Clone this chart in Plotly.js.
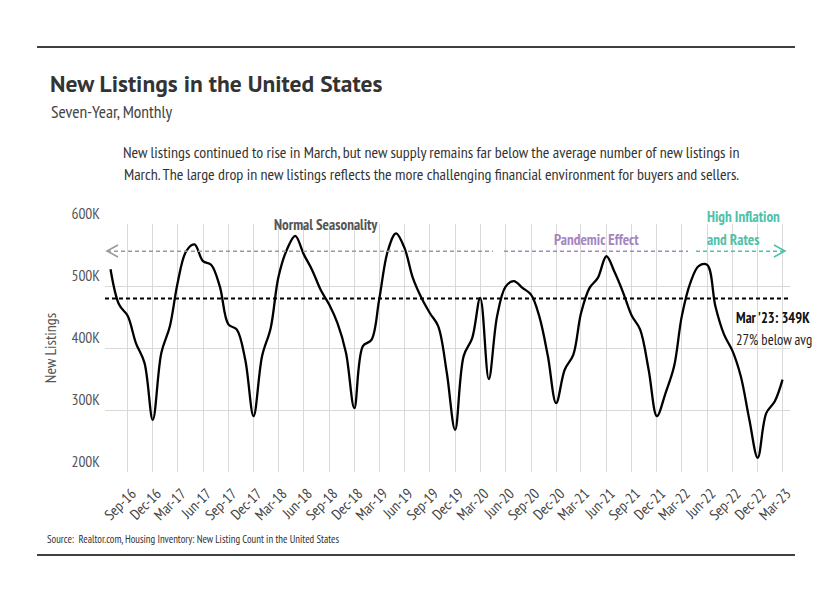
<!DOCTYPE html>
<html>
<head>
<meta charset="utf-8">
<script src="https://cdn.plot.ly/plotly-3.0.1.min.js"></script>
<style>
  html, body { margin: 0; padding: 0; background: #fff; }
  #chart { width: 831px; height: 597px; }
</style>
</head>
<body>
<div id="chart"></div>
<script>
// ---- data ----
const months = [
  '2016-07-01','2016-08-01','2016-09-01','2016-10-01','2016-11-01','2016-12-01',
  '2017-01-01','2017-02-01','2017-03-01','2017-04-01','2017-05-01','2017-06-01',
  '2017-07-01','2017-08-01','2017-09-01','2017-10-01','2017-11-01','2017-12-01',
  '2018-01-01','2018-02-01','2018-03-01','2018-04-01','2018-05-01','2018-06-01',
  '2018-07-01','2018-08-01','2018-09-01','2018-10-01','2018-11-01','2018-12-01',
  '2019-01-01','2019-02-01','2019-03-01','2019-04-01','2019-05-01','2019-06-01',
  '2019-07-01','2019-08-01','2019-09-01','2019-10-01','2019-11-01','2019-12-01',
  '2020-01-01','2020-02-01','2020-03-01','2020-04-01','2020-05-01','2020-06-01',
  '2020-07-01','2020-08-01','2020-09-01','2020-10-01','2020-11-01','2020-12-01',
  '2021-01-01','2021-02-01','2021-03-01','2021-04-01','2021-05-01','2021-06-01',
  '2021-07-01','2021-08-01','2021-09-01','2021-10-01','2021-11-01','2021-12-01',
  '2022-01-01','2022-02-01','2022-03-01','2022-04-01','2022-05-01','2022-06-01',
  '2022-07-01','2022-08-01','2022-09-01','2022-10-01','2022-11-01','2022-12-01',
  '2023-01-01','2023-02-01','2023-03-01'
];
const newListings = [
  527000, 470000, 452000, 408000, 376000, 284000,
  392000, 435000, 505000, 556000, 567000, 540000,
  534000, 499000, 438000, 430000, 381000, 290000,
  387000, 432000, 514000, 559000, 581000, 551000,
  526000, 494000, 470000, 440000, 392000, 303000,
  403000, 413000, 478000, 556000, 585000, 561000,
  513000, 481000, 456000, 435000, 360000, 268000,
  387000, 416000, 481000, 350000, 451000, 499000,
  508000, 497000, 486000, 451000, 387000, 311000,
  365000, 389000, 456000, 497000, 513000, 548000,
  522000, 489000, 452000, 430000, 365000, 290000,
  327000, 370000, 451000, 505000, 532000, 534000,
  467000, 422000, 395000, 354000, 284000, 223000,
  295000, 314000, 349000
];
const averageListings = 480000;
const tickDates = [
  '2016-09-01','2016-12-01','2017-03-01','2017-06-01','2017-09-01','2017-12-01',
  '2018-03-01','2018-06-01','2018-09-01','2018-12-01','2019-03-01','2019-06-01',
  '2019-09-01','2019-12-01','2020-03-01','2020-06-01','2020-09-01','2020-12-01',
  '2021-03-01','2021-06-01','2021-09-01','2021-12-01','2022-03-01','2022-06-01',
  '2022-09-01','2022-12-01','2023-03-01'
];
const tickLabels = [
  'Sep-16','Dec-16','Mar-17','Jun-17','Sep-17','Dec-17','Mar-18','Jun-18','Sep-18',
  'Dec-18','Mar-19','Jun-19','Sep-19','Dec-19','Mar-20','Jun-20','Sep-20','Dec-20',
  'Mar-21','Jun-21','Sep-21','Dec-21','Mar-22','Jun-22','Sep-22','Dec-22','Mar-23'
];
const yTickVals = [200000, 300000, 400000, 500000, 600000];
const yTickLabels = ['200K', '300K', '400K', '500K', '600K'];

// ---- layout helpers (pixel -> paper) ----
const L = 105, R = 790, T = 224, B = 472;
const px = x => (x - L) / (R - L);
const py = y => (B - y) / (B - T);

const NARROW = '"PT Sans Narrow", "Liberation Sans Narrow", "DejaVu Sans Condensed", "Roboto", sans-serif';
const SANS = '"PT Sans", "Lato", "Open Sans", sans-serif';

const periodY = 556000;
const grayC = '#9a9a9a', purpleC = '#a586c0', tealC = '#4fc1a9';

function txt(x, y, text, opts) {
  return Object.assign({
    xref: 'paper', yref: 'paper', x: px(x), y: py(y), text: text,
    showarrow: false, xanchor: 'left', yanchor: 'middle',
    font: { family: NARROW, size: 13, color: '#333' }
  }, opts || {});
}

const trace = {
  x: months, y: newListings, type: 'scatter', mode: 'lines',
  line: { color: '#000', width: 2.3, shape: 'spline', smoothing: 1 },
  hoverinfo: 'skip'
};

const layout = {
  width: 831, height: 597,
  margin: { l: L, r: 831 - R, t: T, b: 597 - B, pad: 0 },
  paper_bgcolor: '#fff', plot_bgcolor: '#fff',
  showlegend: false,
  xaxis: {
    type: 'date',
    range: ['2016-06-11', '2023-03-28'],
    tickvals: tickDates, ticktext: tickLabels,
    tickangle: -45,
    tickfont: { family: NARROW, size: 15, color: '#444' },
    ticklabelstandoff: 9,
    ticklabelshift: 4,
    showgrid: true, gridcolor: '#d9d9d9', gridwidth: 1,
    zeroline: false, showline: false, ticks: '',
    fixedrange: true
  },
  yaxis: {
    range: [200000, 600000],
    tickvals: yTickVals, ticktext: yTickLabels,
    tickfont: { family: NARROW, size: 15.5, color: '#555' },
    ticklabelshift: -10,
    ticklabelstandoff: 4,
    showgrid: true, gridcolor: '#d9d9d9', gridwidth: 1,
    zeroline: false, showline: false, ticks: '',
    title: { text: 'New Listings', font: { family: NARROW, size: 16, color: '#555' }, standoff: 10 },
    fixedrange: true
  },
  shapes: [
    // average line
    { type: 'line', xref: 'paper', yref: 'y', x0: 0, x1: 1, y0: averageListings, y1: averageListings,
      line: { color: '#000', width: 2, dash: '4px,3px' } },
    // period lines
    { type: 'line', xref: 'paper', yref: 'y', x0: px(107), x1: px(493), y0: periodY, y1: periodY,
      line: { color: grayC, width: 1.6, dash: '4px,3px' } },
    { type: 'line', xref: 'paper', yref: 'y', x0: px(504), x1: px(688), y0: periodY, y1: periodY,
      line: { color: purpleC, width: 1.6, dash: '4px,3px' } },
    { type: 'line', xref: 'paper', yref: 'y', x0: px(696), x1: px(784), y0: periodY, y1: periodY,
      line: { color: tealC, width: 1.6, dash: '4px,3px' } },
    // left chevron
    { type: 'path', xref: 'paper', yref: 'paper',
      path: `M ${px(118)} ${py(245)} L ${px(107)} ${py(251)} L ${px(118)} ${py(257)}`,
      line: { color: grayC, width: 1.6 } },
    // right chevron
    { type: 'path', xref: 'paper', yref: 'paper',
      path: `M ${px(774)} ${py(245)} L ${px(785)} ${py(251)} L ${px(774)} ${py(257)}`,
      line: { color: tealC, width: 1.6 } },
    // top and bottom rules
    { type: 'line', xref: 'paper', yref: 'paper', x0: px(37), x1: px(795), y0: py(47), y1: py(47),
      line: { color: '#000', width: 1.3 } },
    { type: 'line', xref: 'paper', yref: 'paper', x0: px(37), x1: px(795), y0: py(555), y1: py(555),
      line: { color: '#000', width: 1.3 } }
  ],
  annotations: [
    txt(48, 83, '<b>New Listings in the United States</b>', { font: { family: SANS, size: 23.5, color: '#333' } }),
    txt(49, 112, 'Seven-Year, Monthly', { font: { family: NARROW, size: 17.5, color: '#444' } }),
    txt(431, 152, 'New listings continued to rise in March, but new supply remains far below the average number of new listings in',
      { xanchor: 'center', font: { family: NARROW, size: 16, color: '#333' } }),
    txt(431, 174, 'March. The large drop in new listings reflects the more challenging financial environment for buyers and sellers.',
      { xanchor: 'center', font: { family: NARROW, size: 16, color: '#333' } }),
    txt(326, 224, '<b>Normal Seasonality</b>', { xanchor: 'center', font: { family: NARROW, size: 15, color: '#555' } }),
    txt(596, 239, '<b>Pandemic Effect</b>', { xanchor: 'center', font: { family: NARROW, size: 15, color: purpleC } }),
    txt(705, 217, '<b>High Inflation</b>', { font: { family: NARROW, size: 15, color: tealC } }),
    txt(705, 239, '<b>and Rates</b>', { font: { family: NARROW, size: 15, color: tealC } }),
    txt(734, 317, '<b>Mar \'23: 349K</b>', { font: { family: NARROW, size: 14.5, color: '#111' } }),
    txt(734, 339, '27% below avg', { font: { family: NARROW, size: 14.5, color: '#222' } }),
    txt(45, 539, 'Source:  Realtor.com, Housing Inventory: New Listing Count in the United States',
      { font: { family: NARROW, size: 10.7, color: '#333' } })
  ]
};

Plotly.newPlot('chart', [trace], layout, { displayModeBar: false, staticPlot: true });
</script>
</body>
</html>
